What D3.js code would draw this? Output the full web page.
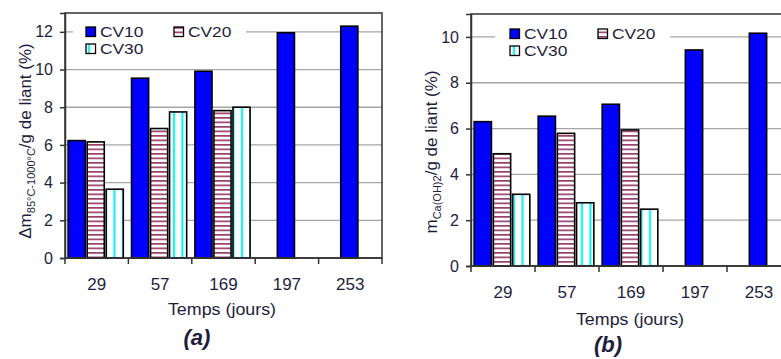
<!DOCTYPE html>
<html>
<head>
<meta charset="utf-8">
<script src="https://cdn.jsdelivr.net/npm/d3@7"></script>
<style>
  html, body { margin: 0; padding: 0; background: #fff; }
  svg { display: block; }
  text { font-family: "Liberation Sans", Arial, sans-serif; fill: #1e1e3c; }
</style>
</head>
<body>
<svg id="fig" width="781" height="359"></svg>
<script>
// Ages of the pastes (days)
const categories = ["29", "57", "169", "197", "253"];
const seriesNames = ["CV10", "CV20", "CV30"];

// (a) mass loss between 85°C and 1000°C per g of binder (%)
const massLossCV10 = [6.23, 9.54, 9.91, 11.95, 12.3];
const massLossCV20 = [6.16, 6.87, 7.82, null, null];
const massLossCV30 = [3.65, 7.75, 8.0, null, null];

// (b) Ca(OH)2 content per g of binder (%)
const portlanditeCV10 = [6.3, 6.54, 7.06, 9.43, 10.16];
const portlanditeCV20 = [4.9, 5.79, 5.94, null, null];
const portlanditeCV30 = [3.13, 2.76, 2.48, null, null];

const ticksA = [0, 2, 4, 6, 8, 10, 12];
const ticksB = [0, 2, 4, 6, 8, 10];

const svg = d3.select("#fig");
const defs = svg.append("defs");

// Hatch patterns for CV20 (horizontal lines) and CV30 (vertical lines)
const hz = defs.append("pattern").attr("id", "hatchH")
  .attr("patternUnits", "userSpaceOnUse").attr("width", 6).attr("height", 4.5);
hz.append("rect").attr("width", 6).attr("height", 4.5).attr("fill", "#fff");
hz.append("rect").attr("y", 0).attr("width", 6).attr("height", 1.7).attr("fill", "#99406e");

const vt = defs.append("pattern").attr("id", "hatchV")
  .attr("patternUnits", "userSpaceOnUse").attr("width", 8.5).attr("height", 6);
vt.append("rect").attr("width", 8.5).attr("height", 6).attr("fill", "#fff");
vt.append("rect").attr("x", 3).attr("width", 2).attr("height", 6).attr("fill", "#00f0f0");

const fills = { CV10: "#0000ff", CV20: "url(#hatchH)", CV30: "url(#hatchV)" };

// stretch a text horizontally by factor f
function widen(sel, f) {
  sel.each(function () {
    const w = this.getComputedTextLength();
    d3.select(this).attr("textLength", w * f).attr("lengthAdjust", "spacingAndGlyphs");
  });
}

function panel(cfg) {
  const g = svg.append("g");
  const x = d3.scaleBand().domain(categories).range([cfg.left, cfg.right]).padding(0);
  const y = d3.scaleLinear().domain([0, cfg.ymax]).range([cfg.bottom, cfg.top]);

  // horizontal grid
  g.append("g").selectAll("line").data(cfg.ticks.filter(d => d > 0)).join("line")
    .attr("x1", cfg.left).attr("x2", cfg.right)
    .attr("y1", d => y(d)).attr("y2", d => y(d))
    .attr("stroke", "#a6a6a6").attr("stroke-width", 1.3);

  // legend background hides the top grid line
  g.append("rect").attr("x", cfg.legend.x0).attr("y", cfg.legend.y0)
    .attr("width", cfg.legend.w).attr("height", cfg.legend.h).attr("fill", "#fff");

  // bars
  const rows = categories.map((c, i) => ({
    cat: c,
    items: seriesNames.map((s, k) => ({ s, v: cfg.values[k][i] })).filter(d => d.v != null)
  }));
  const step = x.bandwidth() * 0.3;
  rows.forEach(r => {
    const cx = x(r.cat) + x.bandwidth() / 2 - 1;
    const inner = d3.scaleBand().domain(r.items.map(d => d.s))
      .range([cx - r.items.length * step / 2, cx + r.items.length * step / 2])
      .paddingInner(0.1).paddingOuter(0.05);
    g.append("g").selectAll("rect").data(r.items).join("rect")
      .attr("x", d => inner(d.s)).attr("width", inner.bandwidth())
      .attr("y", d => y(d.v)).attr("height", d => y(0) - y(d.v))
      .attr("fill", d => fills[d.s]).attr("stroke", "#000").attr("stroke-width", 1.6);
  });

  // frame
  g.append("rect").attr("x", cfg.left).attr("y", cfg.top)
    .attr("width", cfg.right - cfg.left).attr("height", cfg.bottom - cfg.top)
    .attr("fill", "none").attr("stroke", "#333").attr("stroke-width", 1.5);

  // y axis
  const ya = g.append("g").attr("transform", `translate(${cfg.left},0)`)
    .call(d3.axisLeft(y).tickValues(cfg.ticks).tickSize(5).tickPadding(7).tickFormat(d3.format("d")));
  ya.select(".domain").attr("stroke", "#333").attr("stroke-width", 1.5);
  ya.selectAll(".tick line").attr("stroke", "#333").attr("stroke-width", 1.5);
  ya.selectAll("text").attr("font-size", 16).attr("font-family", "Liberation Sans, Arial, sans-serif")
    .attr("fill", "#1e1e3c");

  // x axis: ticks at category boundaries
  const xa = g.append("g").attr("transform", `translate(0,${cfg.bottom})`);
  const edges = categories.map(c => x(c)).concat([x.range()[1]]);
  xa.selectAll("line").data(edges).join("line")
    .attr("x1", d => d).attr("x2", d => d).attr("y1", 0).attr("y2", 6)
    .attr("stroke", "#333").attr("stroke-width", 1.5);
  xa.append("line").attr("x1", cfg.left).attr("x2", cfg.right)
    .attr("stroke", "#333").attr("stroke-width", 1.5);
  xa.selectAll("text").data(categories).join("text")
    .attr("x", d => x(d) + x.bandwidth() / 2).attr("y", cfg.tickLabelY - cfg.bottom)
    .attr("text-anchor", "middle").attr("font-size", 17).text(d => d);

  // axis titles
  g.append("text").attr("x", cfg.xTitle[0]).attr("y", cfg.xTitle[1])
    .attr("text-anchor", "middle").attr("font-size", 17).text("Temps (jours)")
    .call(widen, 1.05);

  const yt = g.append("text")
    .attr("transform", `translate(${cfg.yTitle[0]},${cfg.yTitle[1]}) rotate(-90)`)
    .attr("text-anchor", "middle").attr("font-size", 17);
  yt.append("tspan").text(cfg.yMain);
  yt.append("tspan").attr("font-size", 11).attr("dy", 4).text(cfg.ySub);
  yt.append("tspan").attr("dy", -4).text("/g de liant (%)");

  // legend
  const lg = g.append("g");
  seriesNames.forEach((s, k) => {
    const p = cfg.legend.pos[k];
    lg.append("rect").attr("x", p[0]).attr("y", p[1]).attr("width", 9.5).attr("height", 9.5)
      .attr("fill", fills[s]).attr("stroke", "#000").attr("stroke-width", 1.3);
    lg.append("text").attr("x", p[0] + 14).attr("y", p[1] + 10).attr("font-size", 14).text(s)
      .call(widen, 1.24);
  });

  // panel caption
  g.append("text").attr("x", cfg.caption[0]).attr("y", cfg.caption[1])
    .attr("text-anchor", "middle").attr("font-family", "Liberation Serif, Times New Roman, serif")
    .attr("font-weight", "bold").attr("font-style", "italic").attr("font-size", 22)
    .attr("fill", "#000").text(cfg.captionText);
}

panel({
  left: 65, right: 382, top: 13, bottom: 258, ymax: 13, ticks: ticksA,
  values: [massLossCV10, massLossCV20, massLossCV30],
  tickLabelY: 290, xTitle: [222, 315], yTitle: [31, 141],
  yMain: "Δm", ySub: "85°C-1000°C",
  legend: { x0: 73, y0: 20, w: 173, h: 40, pos: [[86, 27], [174, 27], [86, 44]] },
  caption: [197, 345], captionText: "(a)"
});

panel({
  left: 471, right: 791, top: 14, bottom: 266, ymax: 11, ticks: ticksB,
  values: [portlanditeCV10, portlanditeCV20, portlanditeCV30],
  tickLabelY: 298, xTitle: [630, 325], yTitle: [437, 152],
  yMain: "m", ySub: "Ca(OH)2",
  legend: { x0: 495, y0: 22, w: 175, h: 40, pos: [[510, 29], [598, 29], [510, 46]] },
  caption: [608, 352], captionText: "(b)"
});
</script>
</body>
</html>
